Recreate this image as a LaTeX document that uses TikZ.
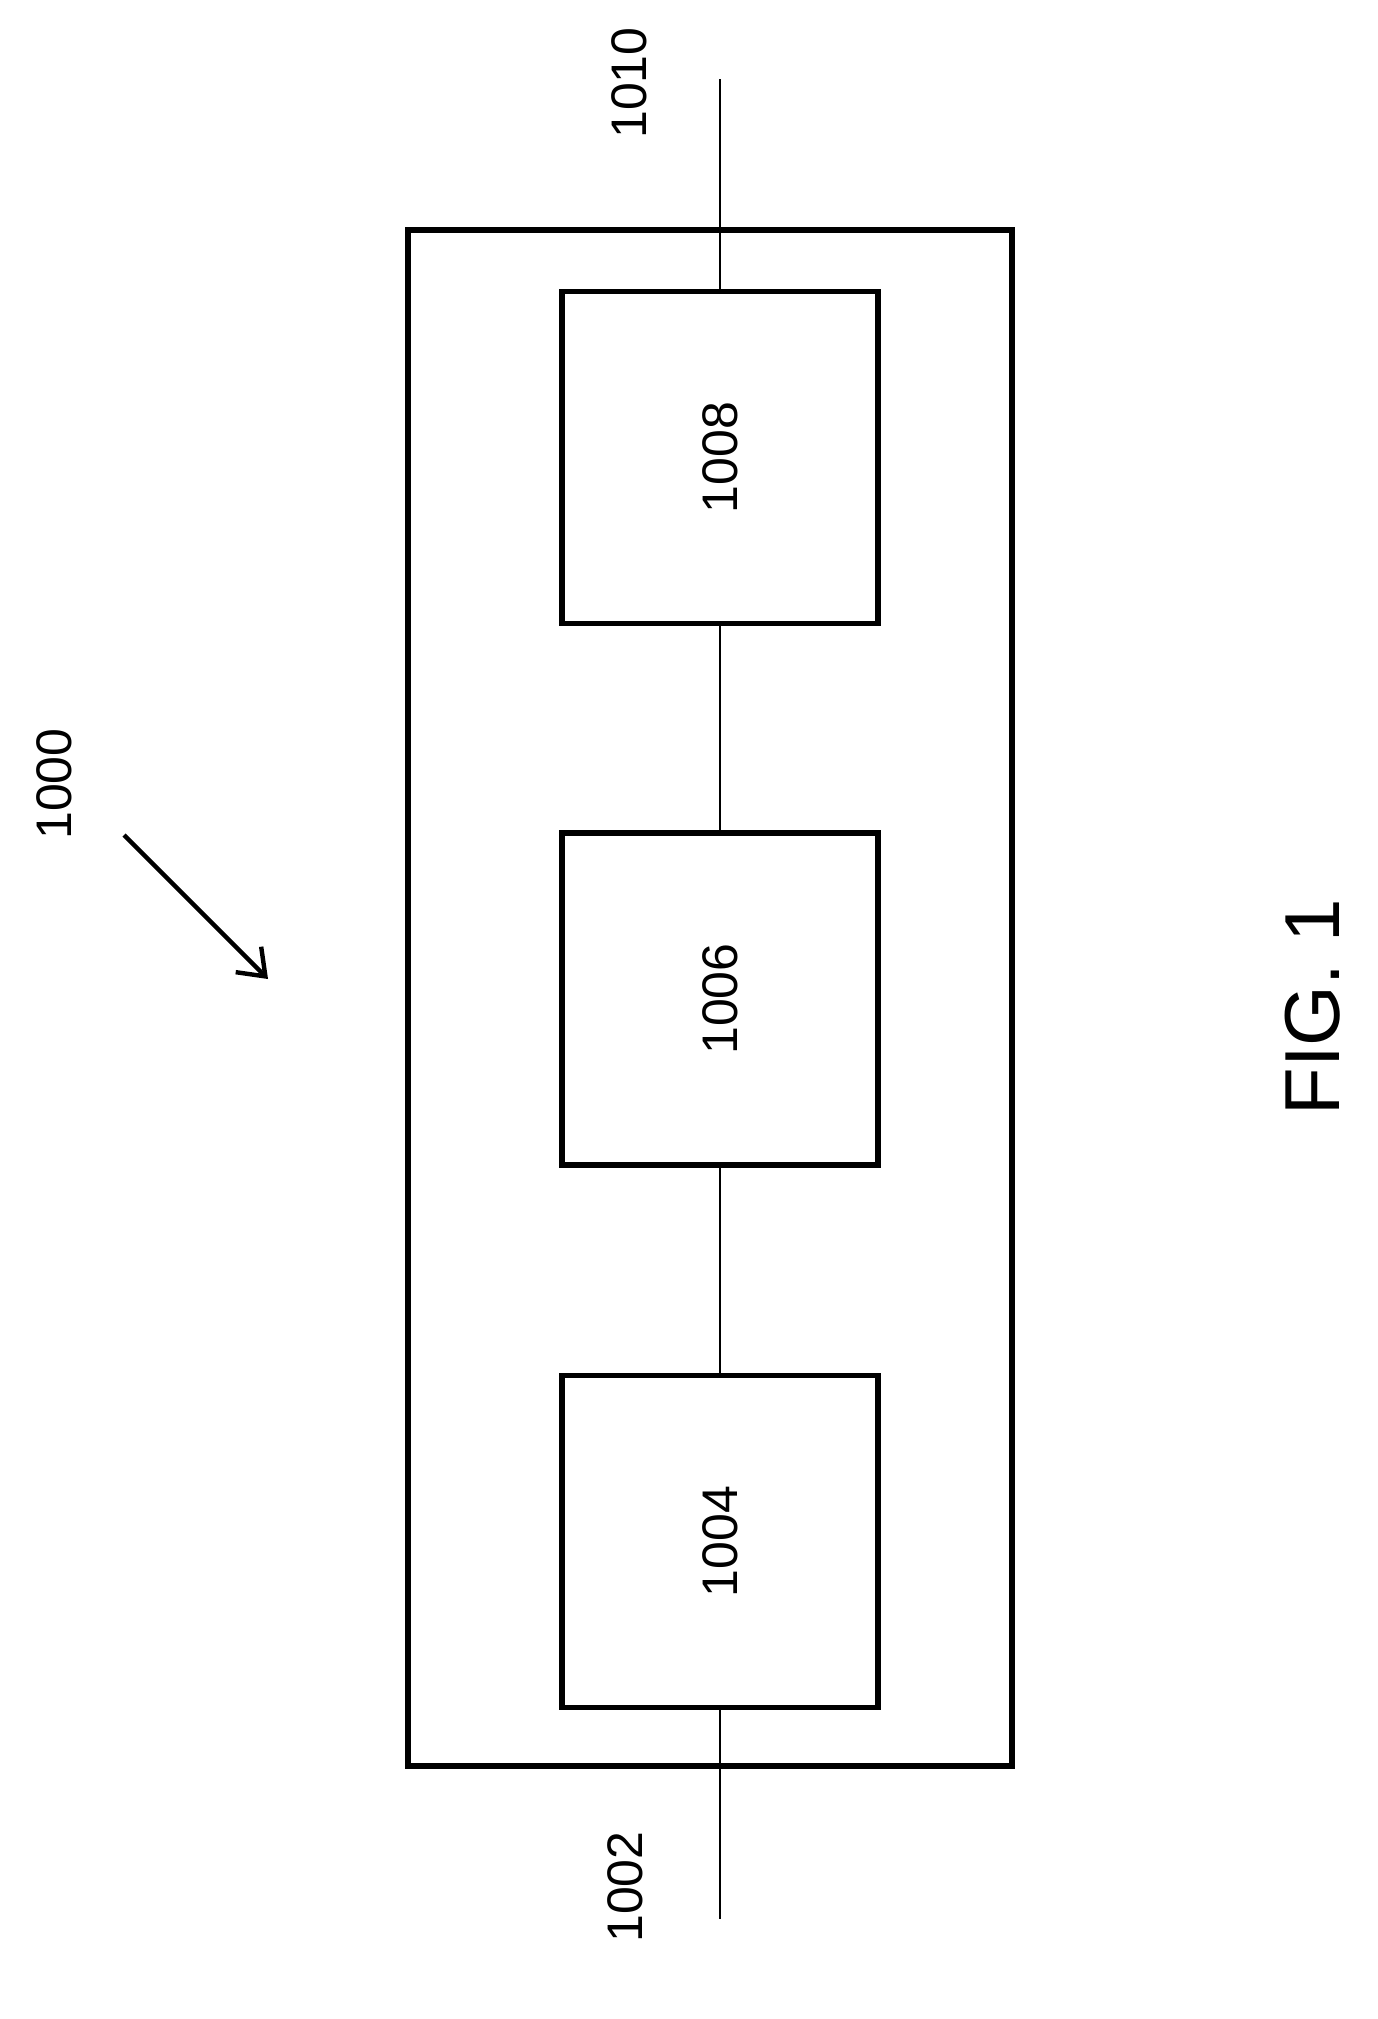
\documentclass[tikz,border=0pt]{standalone}
\usepackage{fontspec}
\setmainfont{Liberation Sans}
\usetikzlibrary{arrows.meta}
\begin{document}
\begin{tikzpicture}[x=0.5pt,y=-0.5pt,
  blk/.style={draw,line width=2.7pt,minimum width=158pt,minimum height=166pt,inner sep=0pt},
  wire/.style={line width=1.2pt},
  lbl/.style={rotate=90,font=\fontsize{25}{28}\selectfont}]
\useasboundingbox (0,0) rectangle (1377,2019);
\node[draw,line width=2.7pt,minimum width=302pt,minimum height=768pt,inner sep=0pt] (outer) at (710,998) {};
\node[blk] (b1008) at (720,457.5) {};
\node[blk] (b1006) at (720,999) {};
\node[blk] (b1004) at (720,1541.5) {};
\node[lbl] at (b1008) {1008};
\node[lbl] at (b1006) {1006};
\node[lbl] at (b1004) {1004};
\coordinate (top) at (720,79);
\coordinate (bot) at (720,1919);
\draw[wire] (top) -- (b1008.north);
\draw[wire] (b1008.south) -- (b1006.north);
\draw[wire] (b1006.south) -- (b1004.north);
\draw[wire] (b1004.south) -- (bot);
\node[lbl] at (629,83) {1010};
\node[lbl] at (625,1887) {1002};
\node[lbl] at (54,784) {1000};
\node[rotate=90,font=\fontsize{39}{44}\selectfont] at (1313,1007) {FIG. 1};
\coordinate (a1) at (124,835);
\coordinate (a2) at (268,979);
\draw[line width=2.2pt,-{Straight Barb[length=12pt,width=18pt,line width=2.2pt]}] (a1) -- (a2);
\end{tikzpicture}
\end{document}
